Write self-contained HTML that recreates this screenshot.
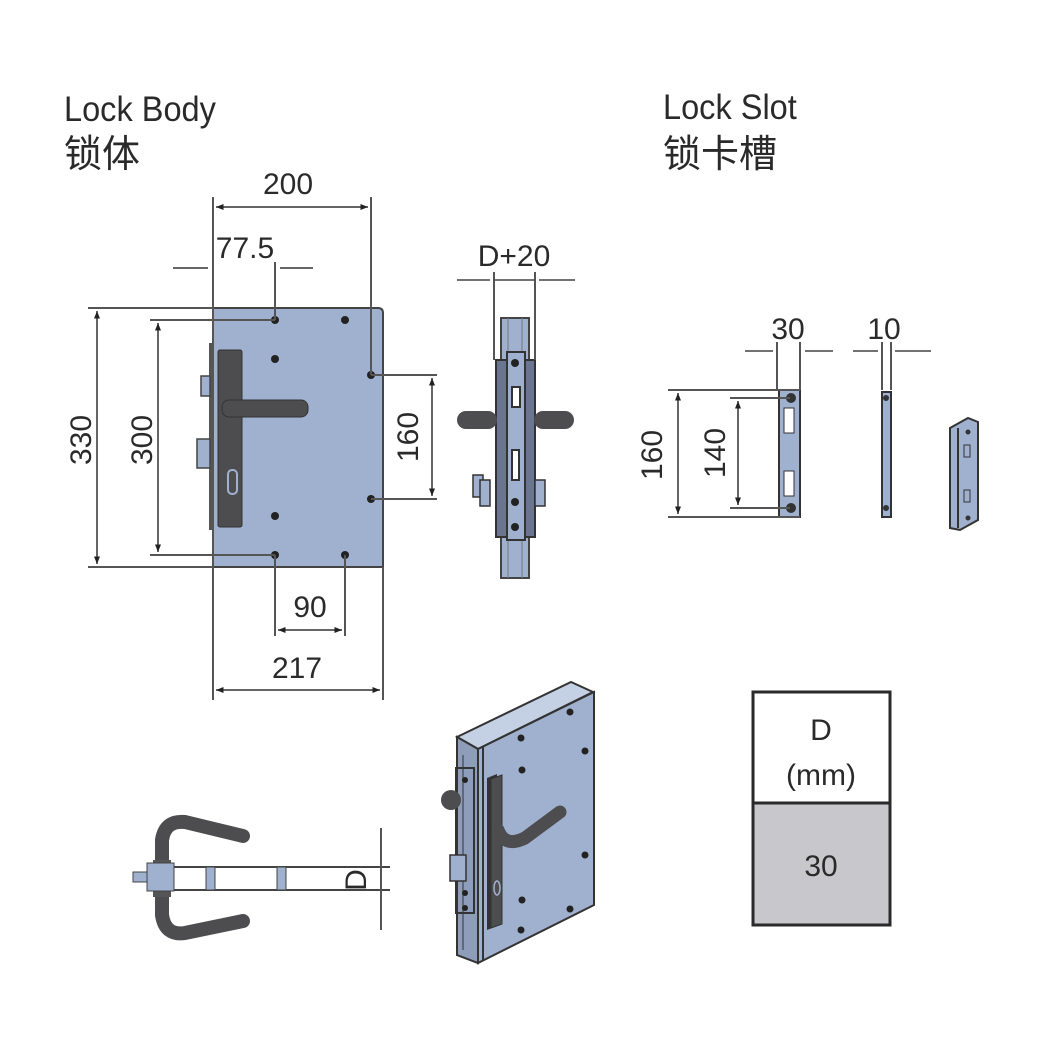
<!DOCTYPE html>
<html><head><meta charset="utf-8"><style>
html,body{margin:0;padding:0;background:#fff}
svg{display:block}
text{font-family:"Liberation Sans","Noto Sans CJK SC",sans-serif;fill:#2a2a2a}
</style></head><body>
<svg width="1042" height="1042" viewBox="0 0 1042 1042" xmlns="http://www.w3.org/2000/svg">
<defs>
<marker id="a" viewBox="0 0 10 10" refX="10" refY="5" markerWidth="7" markerHeight="5" orient="auto-start-reverse"><path d="M0,1L10,5L0,9z" fill="#222"/></marker>
</defs>
<!-- titles -->
<text x="64" y="121" font-size="35" transform="translate(64 0) scale(0.93 1) translate(-64 0)">Lock Body</text>
<text x="64" y="167" font-size="38">锁体</text>
<text x="663" y="119" font-size="35" transform="translate(663 0) scale(0.93 1) translate(-663 0)">Lock Slot</text>
<text x="663" y="167" font-size="38">锁卡槽</text>

<g font-size="30" text-anchor="middle">
<!-- main body -->
<path d="M213,308 H378 Q383,308 383,313 V567 H213 Z" fill="#9fb1cf" stroke="#444" stroke-width="2"/>
<rect x="209" y="343" width="5" height="187" fill="#555"/>
<rect x="201" y="376" width="9" height="20" fill="#9fb1cf" stroke="#444" stroke-width="1.5"/>
<rect x="197" y="439" width="13" height="29" fill="#9fb1cf" stroke="#444" stroke-width="1.5"/>
<rect x="218" y="350" width="24" height="177" rx="2" fill="#4d4d4f" stroke="#333"/>
<rect x="222" y="400" width="86" height="17" rx="7" fill="#4d4d4f" stroke="#333"/>
<rect x="228" y="470" width="9" height="24" rx="4" fill="none" stroke="#9fb1cf" stroke-width="2"/>
<g fill="#222">
<circle cx="275" cy="320" r="4"/><circle cx="345" cy="320" r="4"/><circle cx="275" cy="359" r="4"/>
<circle cx="371" cy="375" r="4"/><circle cx="371" cy="499" r="4"/><circle cx="275" cy="516" r="4"/>
<circle cx="275" cy="555" r="4"/><circle cx="345" cy="555" r="4"/>
</g>
<g stroke="#555" stroke-width="2" fill="none">
<path d="M213,197V700 M371,197V375 M383,567V700 M275,262V320 M275,555V636 M345,555V636"/>
<path d="M88,308H213 M88,567H213 M150,320H275 M150,555H275 M371,375H437 M371,499H437"/>
</g>
<g stroke="#333" stroke-width="1.5" fill="none">
<path d="M216,207H368" marker-start="url(#a)" marker-end="url(#a)"/>
<path d="M173,268H208 M280,268H313" />
<path d="M97,311V564" marker-start="url(#a)" marker-end="url(#a)"/>
<path d="M158,323V552" marker-start="url(#a)" marker-end="url(#a)"/>
<path d="M432,378V496" marker-start="url(#a)" marker-end="url(#a)"/>
<path d="M278,630H342" marker-start="url(#a)" marker-end="url(#a)"/>
<path d="M216,690H380" marker-start="url(#a)" marker-end="url(#a)"/>
</g>
<text x="288" y="194">200</text>
<text x="245" y="258">77.5</text>
<text x="310" y="617">90</text>
<text x="297" y="678">217</text>
<text transform="translate(91 440) rotate(-90)">330</text>
<text transform="translate(152 440) rotate(-90)">300</text>
<text transform="translate(418 437) rotate(-90)">160</text>

<!-- side view -->
<rect x="501" y="318" width="28" height="260" fill="#9fb1cf" stroke="#444" stroke-width="2"/>
<path d="M508,318V578 M522,318V578" stroke="#777"/>
<rect x="496" y="360" width="39" height="177" fill="#6a7590" stroke="#333" stroke-width="2"/>
<rect x="507" y="352" width="18" height="188" fill="#9fb1cf" stroke="#333" stroke-width="2"/>
<rect x="457" y="411" width="40" height="18" rx="9" fill="#4d4d4f"/>
<rect x="534" y="411" width="40" height="18" rx="9" fill="#4d4d4f"/>
<rect x="512" y="387" width="8" height="20" fill="#fff" stroke="#333" stroke-width="2"/>
<rect x="512" y="450" width="7" height="30" fill="#fff" stroke="#333" stroke-width="2"/>
<rect x="473" y="475" width="10" height="22" fill="#9fb1cf" stroke="#333" stroke-width="1.5"/>
<rect x="480" y="480" width="10" height="26" fill="#9fb1cf" stroke="#333" stroke-width="1.5"/>
<rect x="535" y="480" width="10" height="26" fill="#9fb1cf" stroke="#333" stroke-width="1.5"/>
<g fill="#222"><circle cx="515" cy="363" r="4"/><circle cx="515" cy="502" r="4"/><circle cx="515" cy="527" r="4"/></g>
<path d="M494,272V360 M535,272V360" stroke="#555" stroke-width="2"/>
<path d="M457,280H490 M539,280H575 M494,280H535" stroke="#444" stroke-width="1.5"/>
<text x="514" y="266">D+20</text>

<!-- slot -->
<rect x="779" y="390" width="21" height="127" fill="#9fb1cf" stroke="#333" stroke-width="2"/>
<rect x="784" y="408" width="10" height="25" fill="#fff" stroke="#333"/>
<rect x="784" y="471" width="10" height="25" fill="#fff" stroke="#333"/>
<circle cx="791" cy="398" r="5" fill="#333"/><circle cx="791" cy="508" r="5" fill="#333"/>
<path d="M777,342V390 M800,342V390 M668,390H800 M668,517H800 M730,398H790 M730,508H790 M882,342V390 M891,342V390" stroke="#555" stroke-width="2"/>
<path d="M745,351H773 M805,351H833 M853,351H878 M895,351H931" stroke="#444" stroke-width="1.5"/>
<path d="M678,393V514" stroke="#333" stroke-width="1.5" marker-start="url(#a)" marker-end="url(#a)"/>
<path d="M738,401V505" stroke="#333" stroke-width="1.5" marker-start="url(#a)" marker-end="url(#a)"/>
<text x="788" y="339">30</text>
<text x="884" y="339">10</text>
<text transform="translate(662 455) rotate(-90)">160</text>
<text transform="translate(725 453) rotate(-90)">140</text>
<rect x="882" y="392" width="9" height="125" fill="#9fb1cf" stroke="#333" stroke-width="2"/>
<circle cx="886" cy="398" r="3" fill="#333"/><circle cx="886" cy="508" r="3" fill="#333"/>
<path d="M950,428L968,418L978,422V520L960,530L950,528Z" fill="#9fb1cf" stroke="#333" stroke-width="2"/>
<path d="M958,428V528" stroke="#333" stroke-width="2"/>
<g fill="#333"><circle cx="968" cy="432" r="2.5"/><circle cx="968" cy="518" r="2.5"/></g>
<rect x="964" y="445" width="6" height="12" fill="none" stroke="#333"/>
<rect x="964" y="490" width="6" height="12" fill="none" stroke="#333"/>

<!-- top view bottom-left -->
<path d="M170,867H390 M170,890H390" stroke="#444" stroke-width="2"/>
<rect x="206" y="867" width="9" height="23" fill="#9fb1cf" stroke="#444"/>
<rect x="277" y="867" width="9" height="23" fill="#9fb1cf" stroke="#444"/>
<path d="M243,836 L185,822 Q165,820 162,840 L162,860" fill="none" stroke="#4d4d4f" stroke-width="14" stroke-linecap="round"/>
<path d="M243,921 L185,933 Q165,936 162,915 L162,897" fill="none" stroke="#4d4d4f" stroke-width="14" stroke-linecap="round"/>
<rect x="153" y="860" width="18" height="37" fill="#555"/>
<rect x="147" y="863" width="27" height="28" fill="#9fb1cf" stroke="#444"/>
<rect x="133" y="872" width="14" height="10" fill="#9fb1cf" stroke="#444"/>
<path d="M381,828V930" stroke="#555" stroke-width="2"/>
<text transform="translate(366 880) rotate(-90)">D</text>

<!-- iso view -->
<path d="M457,737L571,682L593,692L478,749Z" fill="#c4d0e4" stroke="#333" stroke-width="2"/>
<path d="M457,737L478,749V963L457,955Z" fill="#8d9dba" stroke="#333" stroke-width="2"/>
<path d="M478,749L594,692V905L478,963Z" fill="#9fb1cf" stroke="#333" stroke-width="2"/>
<path d="M483,747V961" stroke="#333" stroke-width="2"/>
<path d="M463,755V950" stroke="#556" stroke-width="1.5"/>
<rect x="456" y="768" width="18" height="145" fill="none" stroke="#333" stroke-width="2"/>
<circle cx="451" cy="800" r="10" fill="#4d4d4f"/>
<rect x="450" y="855" width="16" height="26" fill="#9fb1cf" stroke="#333" stroke-width="1.5"/>
<path d="M487,778L497,774V926L487,930Z" fill="#333"/>
<path d="M491,779L502,775V924L491,928Z" fill="#4d4d4f" stroke="#333"/>
<path d="M498,830 Q505,848 525,838 L560,812" fill="none" stroke="#4d4d4f" stroke-width="13" stroke-linecap="round"/>
<ellipse cx="497" cy="888" rx="3" ry="7" fill="none" stroke="#9fb1cf" stroke-width="1.5"/>
<g fill="#222"><circle cx="521" cy="738" r="3.5"/><circle cx="570" cy="712" r="3.5"/><circle cx="522" cy="770" r="3.5"/><circle cx="585" cy="751" r="3.5"/><circle cx="585" cy="855" r="3.5"/><circle cx="522" cy="900" r="3.5"/><circle cx="570" cy="909" r="3.5"/><circle cx="521" cy="930" r="3.5"/><circle cx="465" cy="780" r="3"/><circle cx="465" cy="893" r="3"/><circle cx="465" cy="908" r="3"/></g>

<!-- table -->
<rect x="753" y="692" width="137" height="111" fill="#fff" stroke="#2a2a2a" stroke-width="3"/>
<rect x="753" y="803" width="137" height="122" fill="#c8c8cc" stroke="#2a2a2a" stroke-width="3"/>
<text x="821" y="740">D</text>
<text x="821" y="785">(mm)</text>
<text x="821" y="876">30</text>
</g>
</svg>
</body></html>
